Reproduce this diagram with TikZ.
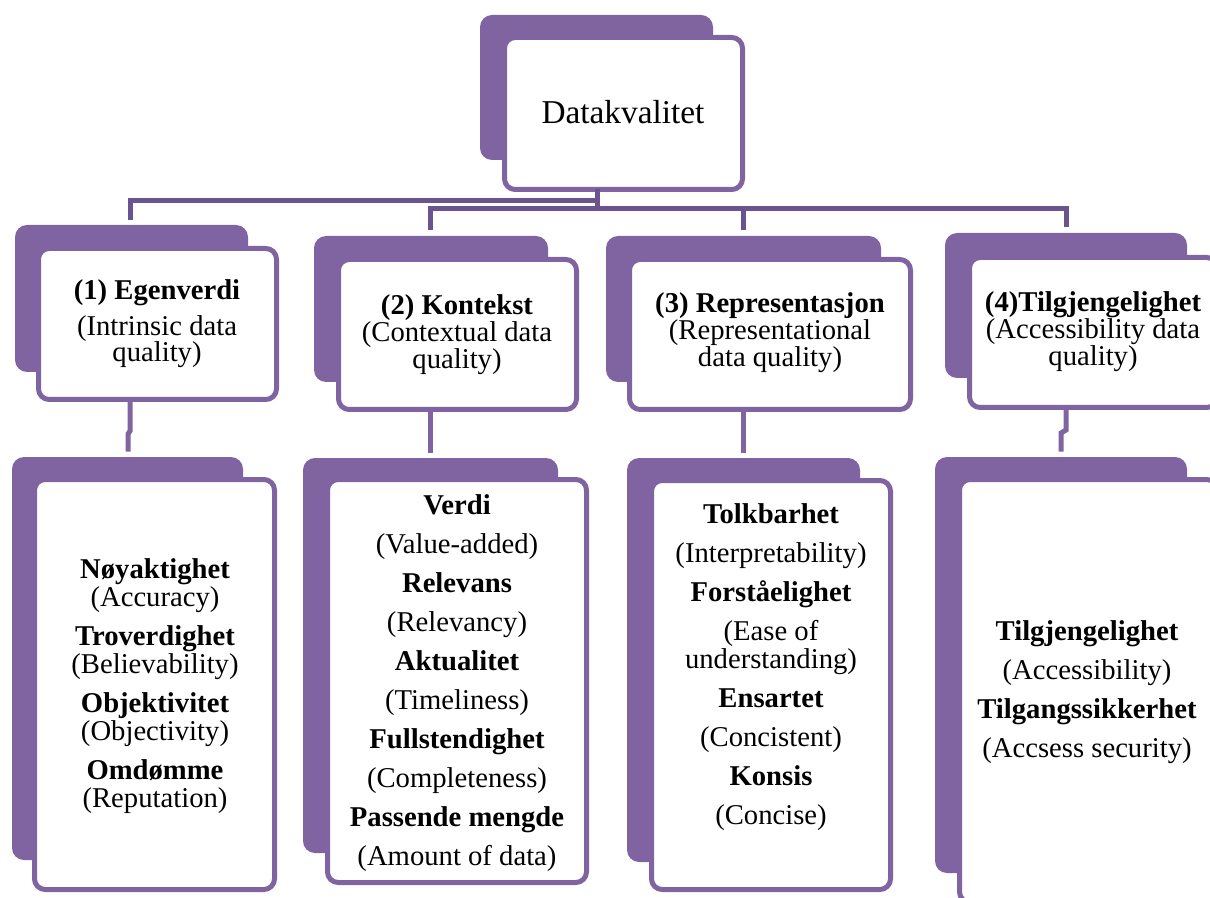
\documentclass[tikz,border=0pt]{standalone}
\usepackage{fontspec}
\setmainfont{Liberation Serif}
\usetikzlibrary{fit}

\definecolor{dqpurple}{HTML}{8064A2}
\definecolor{dqline}{HTML}{6A5490}

% centred lines with a fixed baseline distance; the box's baseline is that of its first line
\newcommand\stacklines[2]{\vtop{\baselineskip=#1\relax\lineskiplimit=-\maxdimen\lineskip=0pt\halign{\hfil##\hfil\cr#2\crcr}}}
\newcommand\rowgap[1]{\noalign{\vskip#1\relax}}

\tikzset{
  backcard/.style={fill=dqpurple, draw=none, rounded corners=9pt, inner sep=0pt, outer sep=0pt},
  card/.style={fill=white, draw=dqpurple, line width=3.75pt, rounded corners=8pt, inner sep=0pt, outer sep=0pt},
  cardtext/.style={inner sep=0pt, outer sep=0pt, anchor=base, font=\fontsize{21.5}{24}\selectfont},
  bus/.style={draw=dqline, line width=3.75pt},
  link/.style={draw=dqpurple, line width=3.75pt},
}

\begin{document}
\begin{tikzpicture}[x=0.75pt, y=-0.75pt]
\useasboundingbox (0,0) rectangle (1210,898);

% ---- top card ----
\node[backcard, fit={(480,15) (713,160)}] (topb) {};
\node[card, fit={(504.5,37.5) (742.5,189.5)}] (top) {};
\node[cardtext, font=\fontsize{25}{28}\selectfont] (t0) at (623,124) {Datakvalitet};

% ---- second row: the four dimensions ----
\node[backcard, fit={(15,225) (248,372)}] (l1b) {};
\node[card, fit={(38.5,248.5) (276.5,399.5)}] (l1) {};
\node[backcard, fit={(314,236) (548,382)}] (l2b) {};
\node[card, fit={(338.5,259.5) (576.5,409.5)}] (l2) {};
\node[backcard, fit={(606,236) (881,382)}] (l3b) {};
\node[card, fit={(629.5,259.5) (910.5,409.5)}] (l3) {};
\node[backcard, fit={(945,233) (1187,378)}] (l4b) {};
\node[card, fit={(969.5,257.5) (1217.5,407.5)}] (l4) {};

\node[cardtext] (t1) at (157,300) {\stacklines{19.5pt}{\textbf{(1) Egenverdi}\cr\rowgap{7.5pt}(Intrinsic data\cr quality)}};
\node[cardtext] (t2) at (457,315) {\stacklines{20.25pt}{\textbf{(2) Kontekst}\cr(Contextual data\cr quality)}};
\node[cardtext] (t3) at (770,313) {\stacklines{20.25pt}{\textbf{(3) Representasjon}\cr(Representational\cr data quality)}};
\node[cardtext] (t4) at (1093,312) {\stacklines{20.25pt}{\textbf{(4)Tilgjengelighet}\cr(Accessibility data\cr quality)}};

% ---- third row: the criteria ----
\node[backcard, fit={(12,457) (243,860)}] (d1b) {};
\node[card, fit={(34.5,479.5) (274.5,889.5)}] (d1) {};
\node[backcard, fit={(303,458) (558,853)}] (d2b) {};
\node[card, fit={(327.5,479.5) (586.5,882.5)}] (d2) {};
\node[backcard, fit={(627,458) (860,862)}] (d3b) {};
\node[card, fit={(651.5,480.5) (890.5,889.5)}] (d3) {};
\node[backcard, fit={(935,457) (1187,873)}] (d4b) {};
\node[card, fit={(959.5,479.5) (1217.5,902.5)}] (d4) {};

\node[cardtext] (u1) at (155,578) {\stacklines{21pt}{%
  \textbf{Nøyaktighet}\cr(Accuracy)\cr\rowgap{8.25pt}%
  \textbf{Troverdighet}\cr(Believability)\cr\rowgap{8.25pt}%
  \textbf{Objektivitet}\cr(Objectivity)\cr\rowgap{8.25pt}%
  \textbf{Omdømme}\cr(Reputation)}};
\node[cardtext] (u2) at (457,514) {\stacklines{29.25pt}{%
  \textbf{Verdi}\cr(Value-added)\cr
  \textbf{Relevans}\cr(Relevancy)\cr
  \textbf{Aktualitet}\cr(Timeliness)\cr
  \textbf{Fullstendighet}\cr(Completeness)\cr
  \textbf{Passende mengde}\cr(Amount of data)}};
\node[cardtext] (u3) at (771,523) {\stacklines{29.25pt}{%
  \textbf{Tolkbarhet}\cr(Interpretability)\cr
  \textbf{Forståelighet}\cr(Ease of\cr\rowgap{-8.25pt}understanding)\cr
  \textbf{Ensartet}\cr(Concistent)\cr
  \textbf{Konsis}\cr(Concise)}};
\node[cardtext] (u4) at (1087,640) {\stacklines{29.25pt}{%
  \textbf{Tilgjengelighet}\cr(Accessibility)\cr
  \textbf{Tilgangssikkerhet}\cr(Accsess security)}};

% ---- connectors: top card to the four dimensions ----
\coordinate (j0) at (597,201);
\coordinate (j1) at (597,209);
\coordinate (a1) at (130,201);
\coordinate (b2) at (430,209);
\coordinate (b3) at (743,209);
\coordinate (b4) at (1066,209);
\draw[bus] (top.south -| j0) -- (j1);
\draw[bus, shorten >=4pt] (j0) -- (a1) -- (a1 |- l1b.north);
\draw[bus, shorten <=4.5pt, shorten >=4.5pt] (b2 |- l2b.north) -- (b2) -- (b4) -- (b4 |- l4b.north);
\draw[bus, shorten >=4.5pt] (b3) -- (b3 |- l3b.north);

% ---- connectors: dimensions to their criteria ----
\coordinate (k1a) at (130,431);
\coordinate (k1b) at (128,434);
\coordinate (k4a) at (1066,430);
\coordinate (k4b) at (1061,433);
\draw[link, shorten >=4pt] (l1.south -| k1a) -- (k1a) -- (k1b) -- (k1b |- d1b.north);
\draw[link, shorten >=4pt] (l2.south -| b2) -- (b2 |- d2b.north);
\draw[link, shorten >=4pt] (l3.south -| b3) -- (b3 |- d3b.north);
\draw[link, shorten >=4pt] (l4.south -| k4a) -- (k4a) -- (k4b) -- (k4b |- d4b.north);
\end{tikzpicture}
\end{document}
